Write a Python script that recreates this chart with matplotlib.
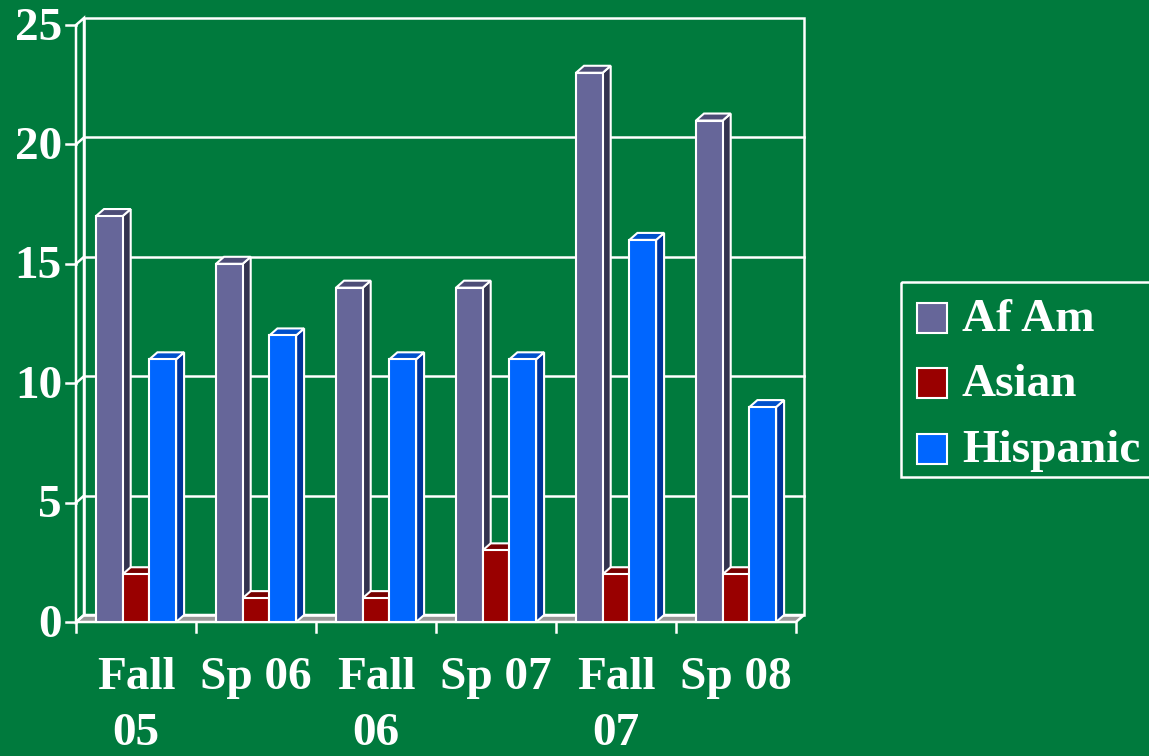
import matplotlib
matplotlib.use("Agg")
import matplotlib.pyplot as plt
from matplotlib.patches import Polygon, Rectangle

# ---- data ----
categories = ["Fall\n05", "Sp 06", "Fall\n06", "Sp 07", "Fall\n07", "Sp 08"]
series_names = ["Af Am", "Asian", "Hispanic"]
af_am = [17, 15, 14, 14, 23, 21]
asian = [2, 1, 1, 3, 2, 2]
hispanic = [11, 12, 11, 11, 16, 9]
y_ticks = [0, 5, 10, 15, 20, 25]

series_values = [af_am, asian, hispanic]
face_colors = ["#666699", "#990000", "#0066FF"]
top_colors = ["#4d4d77", "#770000", "#0050CC"]
side_colors = ["#33334f", "#4a0000", "#003399"]

BG = "#007A3D"
W, H = 1149, 756
FONT = "Liberation Serif"
FS = 34

fig = plt.figure(figsize=(W / 100, H / 100), dpi=100, facecolor=BG)

# pixel geometry of the plot
x_front_left, x_front_right = 76, 796
y_front_base, y_back_top = 622, 18
dpx, dpy = 8, 7  # depth offset in pixels
ncat = len(categories)
px_per_cat = (x_front_right - x_front_left) / ncat
ymax = 25
px_per_unit = (y_front_base - y_back_top - dpy) / ymax
ddx = dpx / px_per_cat
ddy = dpy / px_per_unit

ax = fig.add_axes([x_front_left / W, (H - y_front_base) / H,
                   (x_front_right + dpx - x_front_left) / W,
                   (y_front_base - y_back_top) / H])
ax.set_xlim(0, ncat + ddx)
ax.set_ylim(0, ymax + ddy)
ax.axis("off")
ax.set_facecolor(BG)

lw = 1.8
# floor
ax.add_patch(Polygon([(0, 0), (ncat, 0), (ncat + ddx, ddy), (ddx, ddy)],
                     closed=True, facecolor="#999999", edgecolor="white",
                     lw=lw, clip_on=False, zorder=1))
# left wall
ax.add_patch(Polygon([(0, 0), (ddx, ddy), (ddx, ymax + ddy), (0, ymax)],
                     closed=True, facecolor="none", edgecolor="white",
                     lw=lw, clip_on=False, zorder=1))
# back wall
ax.add_patch(Rectangle((ddx, ddy), ncat, ymax, facecolor="none",
                       edgecolor="white", lw=lw, clip_on=False, zorder=1))
# gridlines
for v in y_ticks[1:-1]:
    ax.plot([ddx, ncat + ddx], [v + ddy, v + ddy], color="white", lw=lw,
            zorder=1, clip_on=False)
    ax.plot([0, ddx], [v, v + ddy], color="white", lw=lw, zorder=1,
            clip_on=False)

# y ticks & labels
tick_u = 10 / px_per_cat
for v in y_ticks:
    ax.plot([-tick_u, 0], [v, v], color="white", lw=lw, clip_on=False)
    ax.text(-14 / px_per_cat, v - 0.15, str(v), ha="right", va="center",
            color="white", fontsize=FS, fontweight="bold", family=FONT)

# x ticks & labels
tick_v = 10 / px_per_unit
for i in range(ncat + 1):
    ax.plot([i, i], [0, -tick_v], color="white", lw=lw, clip_on=False)
for i, lab in enumerate(categories):
    ax.text(i + 0.5, -35 / px_per_unit, lab, ha="center", va="top",
            color="white", fontsize=FS, fontweight="bold", family=FONT,
            linespacing=1.45)

# bars
offset = 20 / px_per_cat
bw = 26.7 / px_per_cat
for i in range(ncat):
    for j, vals in enumerate(series_values):
        x0 = i + offset + j * bw
        x1 = x0 + bw
        h = vals[i]
        z = 3 + j
        # side face
        ax.add_patch(Polygon([(x1, 0), (x1 + ddx, ddy), (x1 + ddx, h + ddy), (x1, h)],
                             closed=True, facecolor=side_colors[j],
                             edgecolor="white", lw=1.5, zorder=z, clip_on=False))
        # top face
        ax.add_patch(Polygon([(x0, h), (x1, h), (x1 + ddx, h + ddy), (x0 + ddx, h + ddy)],
                             closed=True, facecolor=top_colors[j],
                             edgecolor="white", lw=1.5, zorder=z, clip_on=False))
        # front face
        ax.add_patch(Rectangle((x0, 0), bw, h, facecolor=face_colors[j],
                               edgecolor="white", lw=1.5, zorder=z, clip_on=False))

# legend (drawn in pixel coordinates of an overlay axes)
lax = fig.add_axes([0, 0, 1, 1])
lax.set_xlim(0, W)
lax.set_ylim(H, 0)
lax.axis("off")
lax.patch.set_alpha(0)
lax.add_patch(Rectangle((901, 282), 260, 195, facecolor="none",
                        edgecolor="white", lw=1.8, clip_on=True))
leg_y = [318, 383, 449]
for j, name in enumerate(series_names):
    lax.add_patch(Rectangle((917, leg_y[j] - 15), 30, 30,
                            facecolor=face_colors[j], edgecolor="white", lw=1.5))
    lax.text(962, leg_y[j] + 2, name, ha="left", va="center", color="white",
             fontsize=FS, fontweight="bold", family=FONT)

fig.savefig("out.png", dpi=100, facecolor=BG)
